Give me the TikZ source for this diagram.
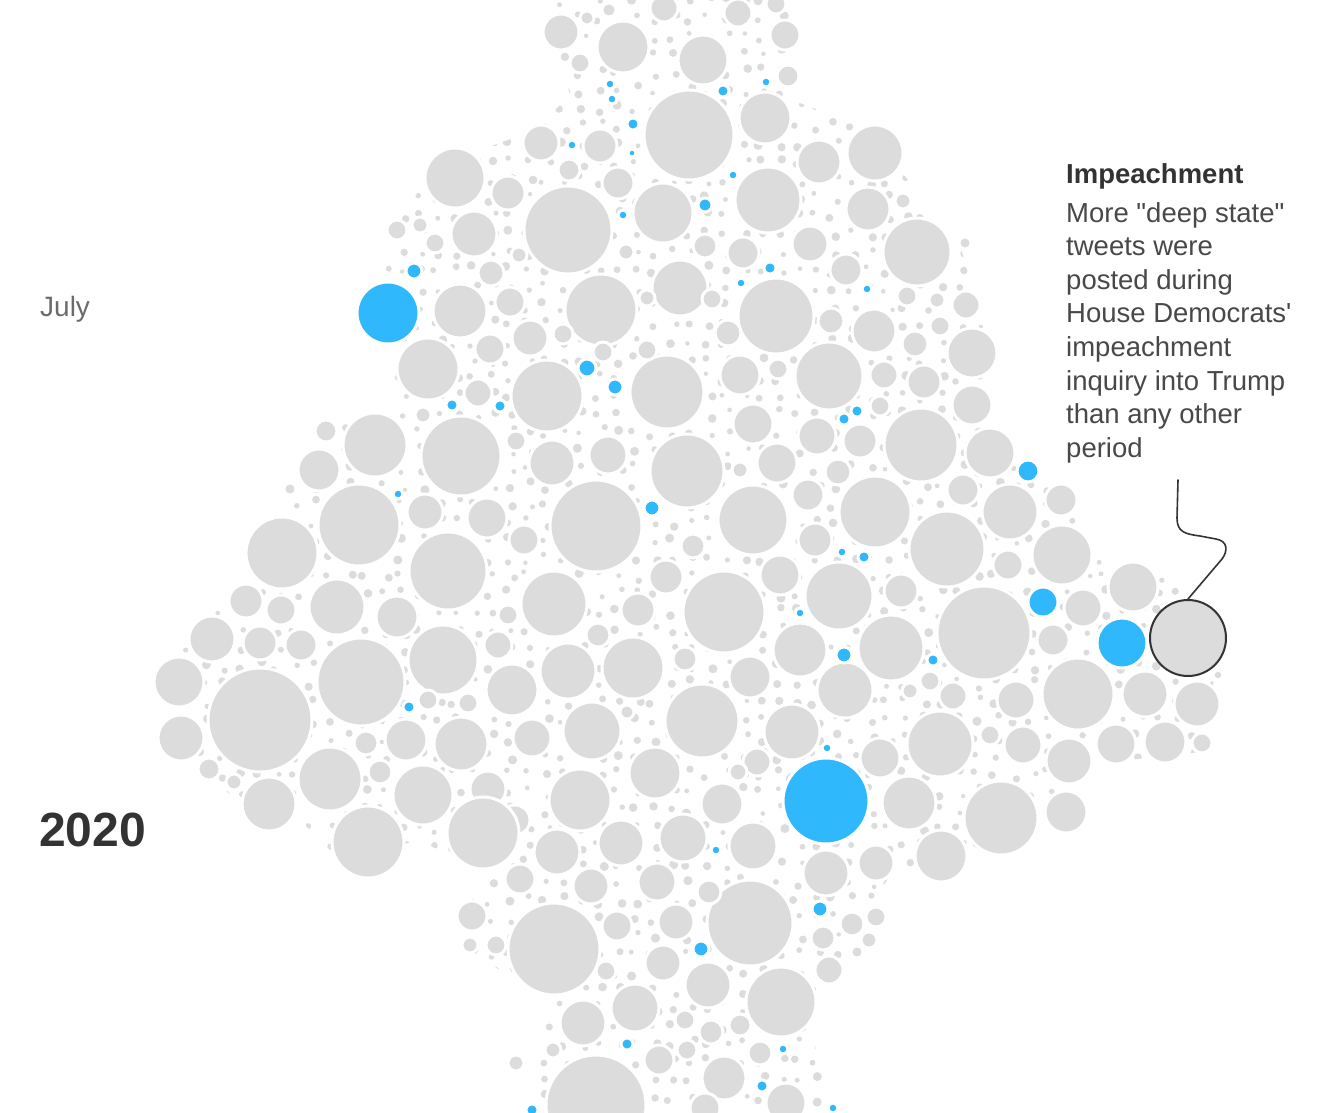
\documentclass[tikz,border=0pt]{standalone}
\usepackage{fontspec}
\setmainfont{Liberation Sans}
\newfontfamily\plainfont{Liberation Sans}
\usetikzlibrary{positioning}
\definecolor{bubblegrey}{HTML}{DCDCDC}
\definecolor{bubbleblue}{HTML}{2FB8FC}
\definecolor{inkdark}{HTML}{333333}
\definecolor{inkmid}{HTML}{484848}
\definecolor{inklight}{HTML}{6B6B6B}
\tikzset{
  bubble/.style={fill=bubblegrey, draw=white, line width=3pt},
  bluebubble/.style={bubble, fill=bubbleblue},
  dotgrey/.style={fill=bubblegrey},
  labeltext/.style={inner sep=0pt, anchor=base west}
}
\begin{document}
\begin{tikzpicture}[x=1pt, y=-1pt]
\useasboundingbox (0,0) rectangle (1318,1112);

%small dots - jittered grid, clipped to the outline of the pack
\begin{scope}
\clip (555,0) -- (558,50) -- (570,95) -- (535,130) -- (440,165) -- (400,215)
  -- (372,290) -- (375,335) -- (400,365) -- (385,400) -- (330,425) -- (308,465)
  -- (292,500) -- (258,535) -- (240,590) -- (200,625) -- (170,665) -- (170,750)
  -- (210,778) -- (250,810) -- (300,820) -- (340,860) -- (420,840) -- (460,862)
  -- (505,862) -- (472,900) -- (475,955) -- (525,985) -- (548,1010) -- (528,1112)
  -- (828,1112) -- (820,1060) -- (802,1010) -- (830,970) -- (866,945) -- (875,900)
  -- (892,872) -- (960,862) -- (1030,822) -- (1078,792) -- (1085,765) -- (1200,752)
  -- (1212,700) -- (1215,660) -- (1212,615) -- (1155,570) -- (1090,548) -- (1070,495)
  -- (1032,468) -- (1002,445) -- (985,400) -- (985,330) -- (970,280) -- (960,245)
  -- (930,205) -- (895,165) -- (865,128) -- (792,100) -- (792,0) -- cycle;
\pgfmathsetseed{42}
\foreach \gx in {150,168,...,1230}{
  \foreach \gy in {0,18,...,1110}{
    \pgfmathsetmacro\dx{\gx+5*rand}
    \pgfmathsetmacro\dy{\gy+5*rand}
    \pgfmathsetmacro\dr{3.4+1.2*rand}
    \fill[dotgrey] (\dx,\dy) circle[radius=\dr pt];
  }
}
\end{scope}

%grey bubbles - top
\foreach \x/\y/\r in {561/32/18, 623/47/26, 580/63/10, 587/18/7, 609/10/7, 664/8/14,
  703/60/25, 738/13/14, 785/35/15, 776/4/10, 788/76/11,
  689/135/45, 765/118/26, 541/143/18, 600/146/17, 455/178/30, 508/193/17, 569/170/11,
  618/183/16, 663/213/30, 768/200/33, 819/162/22, 875/153/28, 868/209/22, 568/230/44,
  474/234/23, 435/243/10, 397/230/10, 420/225/8, 743/253/16, 810/244/18, 846/270/16,
  917/252/34, 705/246/12, 626/252/8, 519/255/8, 903/201/8, 965/243/6}
  \filldraw[bubble] (\x,\y) circle[radius=\r pt];
%grey bubbles - upper middle
\foreach \x/\y/\r in {460/311/27, 491/273/13, 510/302/15, 601/310/36, 680/288/28,
  776/316/38, 712/299/10, 647/298/8, 728/333/13, 831/321/13, 874/331/22, 907/296/10,
  937/300/8, 966/305/14, 940/326/10, 915/344/13, 972/353/25, 428/369/31, 490/349/15,
  530/338/18, 563/334/10, 547/396/36, 667/392/37, 740/375/20, 778/369/10, 829/376/34,
  884/375/14, 924/382/17, 972/405/20, 478/393/14, 603/352/10, 647/350/10, 423/415/8,
  375/445/32, 461/456/40, 326/431/11, 319/470/21, 516/441/10, 552/463/23, 608/455/19,
  687/471/37, 596/526/46, 753/424/20, 777/463/20, 817/436/19, 860/441/17, 921/445/37,
  880/406/10, 990/453/25, 838/472/13, 740/470/8, 359/525/41, 425/512/18, 487/518/20,
  524/540/15, 753/520/35, 808/495/16, 875/512/36, 963/490/16, 1010/512/28, 1061/500/16}
  \filldraw[bubble] (\x,\y) circle[radius=\r pt];
%grey bubbles - widest part
\foreach \x/\y/\r in {282/553/36, 290/489/6, 246/601/17, 281/610/15, 337/607/28,
  397/617/21, 448/571/39, 666/577/17, 693/546/12, 780/575/20, 815/540/17,
  839/596/34, 901/591/17, 947/549/38, 1062/555/30, 1008/565/15,
  554/604/33, 638/610/17, 724/612/41, 508/615/10, 598/635/12, 498/645/14, 443/660/35,
  361/682/44, 301/645/16, 260/643/17, 212/639/23, 179/682/25, 260/720/52, 568/671/28,
  633/668/31, 685/659/12, 750/677/21, 800/650/27, 891/648/33, 984/633/47,
  1083/608/19, 1133/587/25, 1053/640/16, 845/690/28, 910/691/8, 930/681/10, 953/696/14,
  1016/700/19, 1078/694/36, 1145/694/23, 1197/704/23, 1218/675/5, 512/690/26,
  468/703/10, 428/700/10}
  \filldraw[bubble] (\x,\y) circle[radius=\r pt];
%grey bubbles - lower middle
\foreach \x/\y/\r in {181/738/23, 209/769/11, 234/782/8, 269/804/27, 330/779/32,
  380/772/12, 366/743/12, 406/740/21, 461/744/27, 423/795/30, 532/738/19, 488/789/18,
  592/731/29, 702/721/37, 655/773/26, 580/800/31, 515/820/15, 483/833/36, 368/842/36,
  557/852/23, 621/843/23, 683/838/24, 722/804/21, 757/762/14, 792/732/28, 753/846/24,
  880/758/20, 940/744/33, 990/735/10, 1023/745/19, 1069/761/23, 1116/744/20,
  1165/742/21, 1202/743/10, 909/803/27, 1001/818/37, 1066/812/21, 941/856/26,
  876/863/18, 793/780/9, 627/712/7, 738/772/9}
  \filldraw[bubble] (\x,\y) circle[radius=\r pt];
%grey bubbles - bottom
\foreach \x/\y/\r in {520/879/15, 591/886/18, 657/882/19, 826/873/23, 472/916/15,
  554/949/46, 750/923/43, 617/926/15, 676/922/18, 709/892/12, 876/917/10, 852/924/12,
  823/938/12, 496/945/10, 470/945/8, 606/971/10, 663/963/18, 708/985/23, 781/1002/35,
  829/970/14, 869/940/8, 857/952/6, 635/1008/24, 583/1023/23, 685/1020/10,
  711/1032/12, 740/1025/11, 596/1105/50, 724/1078/22, 760/1053/12, 553/1050/8,
  516/1063/8, 687/1050/10, 659/1060/15, 786/1103/20, 705/1108/15}
  \filldraw[bubble] (\x,\y) circle[radius=\r pt];

%blue bubbles
\foreach \x/\y/\r in {610/84/5, 612/99/5, 723/91/6, 766/82/5, 633/124/6, 572/145/5,
  632/153/4, 705/205/7, 733/175/5, 623/215/5, 770/268/6, 741/283/5, 867/289/5,
  414/271/8, 388/313/31, 587/368/9, 615/387/8, 452/405/6, 500/406/6, 844/419/6,
  857/411/6, 398/494/5, 652/508/8, 1028/471/11, 842/552/5, 864/557/6, 1043/602/15,
  1122/643/25, 800/613/5, 844/655/8, 933/660/6, 409/707/6, 826/801/43, 827/748/5,
  716/850/5, 820/909/8, 701/949/8, 627/1044/6, 783/1049/5, 762/1086/6, 532/1110/6,
  833/1108/5}
  \filldraw[bluebubble] (\x,\y) circle[radius=\r pt];

%highlighted bubble
\node[circle, fill=bubblegrey, draw=inkdark, line width=2pt, minimum size=76pt,
  inner sep=0pt] (impeach) at (1188,638) {};

%labels
\node[labeltext, text=inklight, font=\fontsize{28}{33}\selectfont] (july) at (40,316) {July};
\node[labeltext, text=inkdark, font=\fontsize{48}{52}\selectfont\bfseries] (year) at (39,846) {2020};
\node[labeltext, text=inkdark, font=\fontsize{27.5}{33.6}\selectfont\bfseries] (title) at (1066,183) {Impeachment};
\node[inner sep=0pt, anchor=north west, align=left, text=inkmid,
  font=\plainfont\fontsize{27.5}{33.6}\selectfont] (note) at ([yshift=-19pt]title.base west)
  {More "deep state"\\tweets were\\posted during\\House Democrats'\\impeachment\\inquiry into Trump\\than any other\\period};

%leader line
\coordinate (lead) at (1178,480);
\draw[inkdark, line width=1.6pt, line cap=round] (lead) -- (1177,518)
  .. controls (1177,532) and (1185,534) .. (1200,536) -- (1216,539)
  .. controls (1228,541) and (1228,551) .. (1222,559) -- (impeach.north);
\end{tikzpicture}
\end{document}
